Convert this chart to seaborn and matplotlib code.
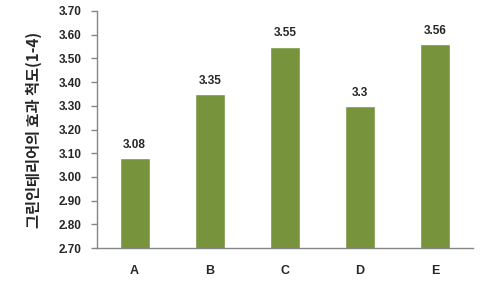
import matplotlib
matplotlib.use("Agg")
import matplotlib.pyplot as plt
import seaborn as sns
import pandas as pd
import numpy as np

categories = ["A", "B", "C", "D", "E"]
values = [3.08, 3.35, 3.55, 3.3, 3.56]
value_labels = ["3.08", "3.35", "3.55", "3.3", "3.56"]
y_ticks = [2.70, 2.80, 2.90, 3.00, 3.10, 3.20, 3.30, 3.40, 3.50, 3.60, 3.70]
y_label = "그린인테리어의 효과 척도(1-4)"

sns.set_theme(style="white")
plt.rcParams['font.family'] = ['Noto Sans CJK KR', 'DejaVu Sans']

df = pd.DataFrame({"cat": categories, "val": values})

fig = plt.figure(figsize=(4.8, 2.81), dpi=100)
ax = fig.add_axes([0.202, 0.117, 0.783, 0.844])
sns.barplot(data=df, x="cat", y="val", color="#77933C", width=0.4, ax=ax, saturation=1)

ax.set_ylim(2.70, 3.70)
ax.set_yticks(y_ticks)
ax.set_yticklabels([f"{t:.2f}" for t in y_ticks], fontsize=8.5, fontweight="bold", family=['Liberation Sans', 'DejaVu Sans'])
ax.set_xlim(-0.5, 4.5)
ax.set_xticks(range(len(categories)))
ax.set_xticklabels(categories, fontsize=9, fontweight="bold", family=['Liberation Sans', 'DejaVu Sans'])
ax.tick_params(axis="x", which="major", length=0, pad=12)
ax.set_xticks(np.arange(-0.5, 5, 1), minor=True)
ax.tick_params(axis="x", which="minor", length=4, width=1, color="#868686", direction="out")
ax.tick_params(axis="y", length=4, width=1, color="#868686", direction="out", left=True, pad=7)

for i, (v, lab) in enumerate(zip(values, value_labels)):
    ax.text(i, v + 0.03, lab, ha="center", va="bottom", fontsize=8.5, fontweight="bold",
            family=['Liberation Sans', 'DejaVu Sans'])

ax.set_xlabel("")
ax.set_ylabel(y_label, fontsize=11, fontweight="bold", labelpad=12)
for s in ["top", "right"]:
    ax.spines[s].set_visible(False)
for s in ["left", "bottom"]:
    ax.spines[s].set_color("#868686")
    ax.spines[s].set_linewidth(1)
ax.grid(False)

fig.savefig("out.png", dpi=100)
